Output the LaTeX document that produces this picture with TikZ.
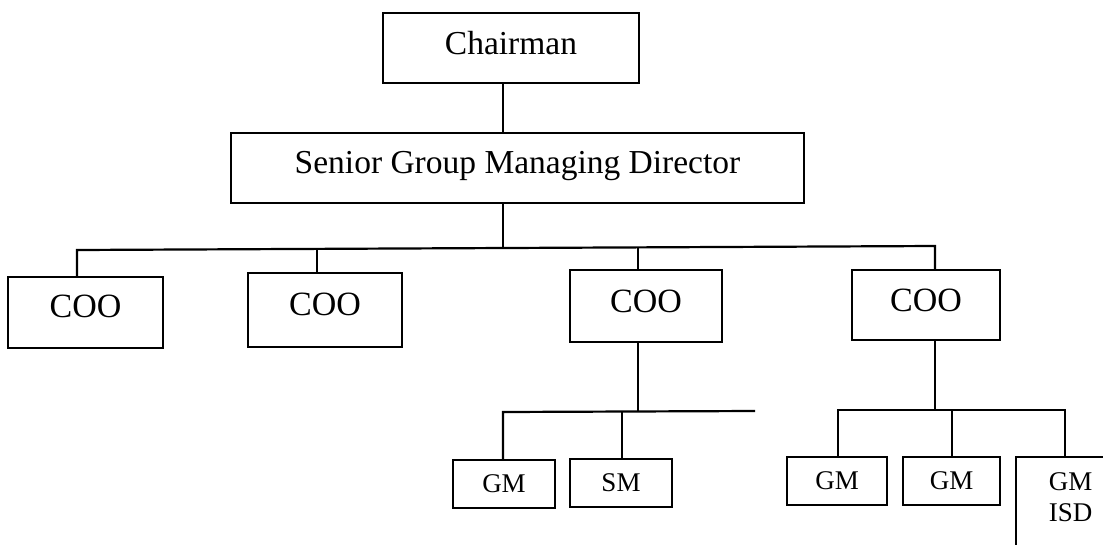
\documentclass[tikz,border=0pt]{standalone}
\usepackage{fontspec}
\setmainfont{Liberation Serif}
\begin{document}
\begin{tikzpicture}[x=1pt,y=-1pt,
  line width=2.2pt,
  box/.style={draw, line width=2.2pt, inner sep=0pt, outer sep=0pt},
  topbox/.style={box, font=\fontsize{33.5}{40}\selectfont, text depth=10pt},
  coobox/.style={box, font=\fontsize{34}{40}\selectfont, text depth=10pt},
  smallbox/.style={box, font=\fontsize{27}{31}\selectfont, text depth=0pt}]
\useasboundingbox (0,0) rectangle (1103,544);
\clip (0,0) rectangle (1103,544);

% top of the chart
\node[topbox, minimum width=256pt, minimum height=70pt] (chair) at (511,48) {Chairman};
\node[topbox, minimum width=573pt, minimum height=70pt, text depth=11pt] (sgmd) at (517.5,168) {Senior Group Managing Director};

% chief operating officers
\node[coobox, minimum width=155pt, minimum height=71pt, text depth=12pt] (coo1) at (85.5,312.5) {COO};
\node[coobox, minimum width=154pt, minimum height=74pt, text depth=12pt] (coo2) at (325,310) {COO};
\node[coobox, minimum width=152pt, minimum height=72pt] (coo3) at (646,306) {COO};
\node[coobox, minimum width=148pt, minimum height=70pt] (coo4) at (926,305) {COO};

% managers
\node[smallbox, minimum width=102pt, minimum height=48pt] (gma) at (504,484) {GM};
\node[smallbox, minimum width=102pt, minimum height=48pt] (sm) at (621,483) {SM};
\node[smallbox, minimum width=100pt, minimum height=48pt] (gmb) at (837,481) {GM};
\node[smallbox, minimum width=97pt, minimum height=48pt] (gmc) at (951.5,481) {GM};
\node[box, minimum width=114pt, minimum height=113pt] (isd) at (1073,513.5) {};
\node[font=\fontsize{27}{31}\selectfont, align=center, inner sep=0pt] (isdtext) at (1070.5,497.5) {GM\\ISD};

% junction points
\coordinate (j0) at (503,248);
\coordinate (b1) at (77,250);
\coordinate (b2) at (317,249);
\coordinate (b3) at (638,247);
\coordinate (b4) at (935,246);
\coordinate (s0) at (638,412);
\coordinate (sa) at (503,412);
\coordinate (sb) at (622,412);
\coordinate (se) at (755,411);
\coordinate (t0) at (935,410);
\coordinate (ta) at (838,410);
\coordinate (tb) at (952,410);
\coordinate (tc) at (1065,410);

% connectors
\draw (chair.south -| j0) -- (sgmd.north -| j0);
\draw (sgmd.south -| j0) -- (j0);
\draw (coo1.north -| b1) -- (b1) -- (b4) -- (coo4.north -| b4);
\draw (b2) -- (coo2.north -| b2);
\draw (b3) -- (coo3.north -| b3);

\draw (coo3.south -| s0) -- (s0);
\draw (gma.north -| sa) -- (sa) -- (se);
\draw (sb) -- (sm.north -| sb);

\draw (coo4.south -| t0) -- (t0);
\draw (gmb.north -| ta) -- (ta) -- (tc) -- (isd.north -| tc);
\draw (tb) -- (gmc.north -| tb);
\end{tikzpicture}
\end{document}
